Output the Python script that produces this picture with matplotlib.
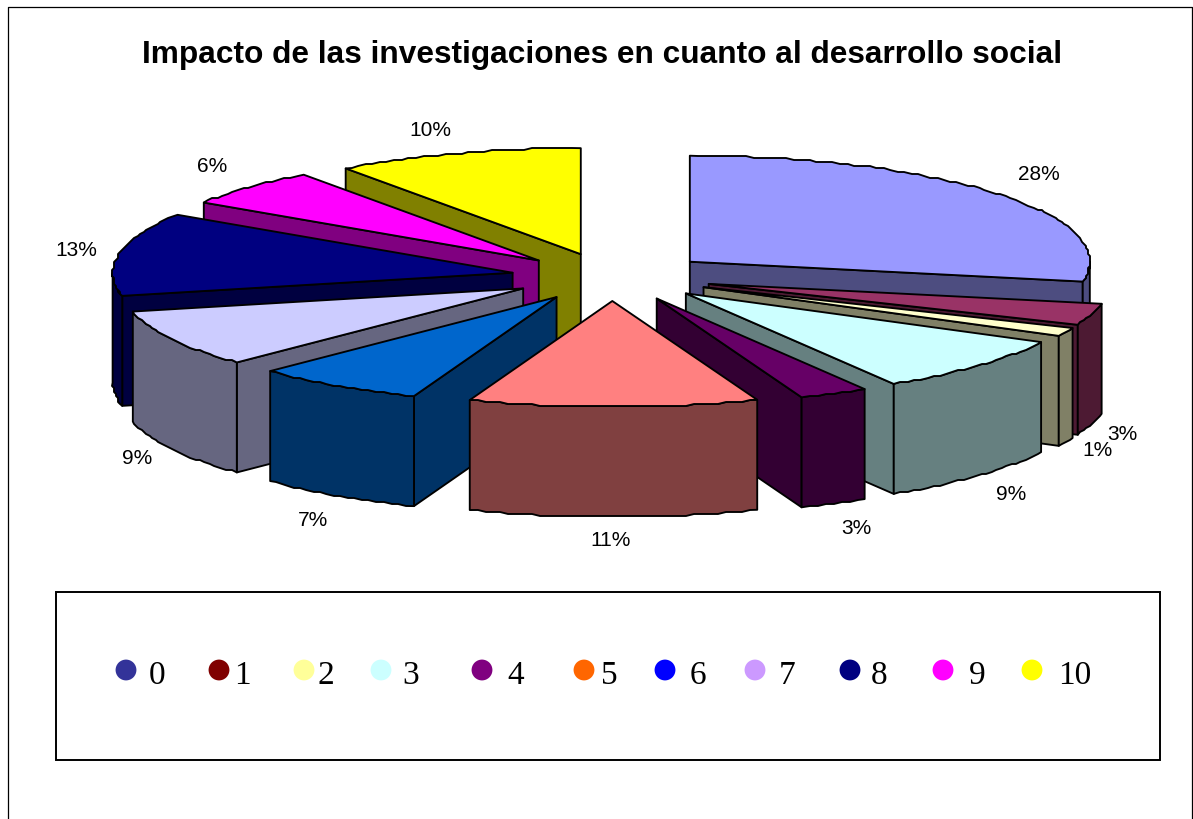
import numpy as np
import matplotlib
matplotlib.use("Agg")
import matplotlib.pyplot as plt
from matplotlib.patches import Polygon, Rectangle

TITLE = "Impacto de las investigaciones en cuanto al desarrollo social"
categories = ["0", "1", "2", "3", "4", "5", "6", "7", "8", "9", "10"]
values = [28.0, 3.3, 1.3, 8.7, 2.8, 11.7, 6.9, 8.8, 12.7, 5.8, 10.0]
pct_labels = ["28%", "3%", "1%", "9%", "3%", "11%", "7%", "9%", "13%", "6%", "10%"]
top_colors = ["#9999FF", "#993366", "#FFFFCC", "#CCFFFF", "#660066", "#FF8080",
              "#0066CC", "#CCCCFF", "#000080", "#FF00FF", "#FFFF00"]
legend_colors = ["#333399", "#800000", "#FFFF99", "#CCFFFF", "#800080", "#FF6600",
                 "#0000FF", "#CC99FF", "#000080", "#FF00FF", "#FFFF00"]

# layout (pixels)
label_xy = [(1039, 175), (1122, 434), (1097, 450), (1011, 495), (856, 528), (611, 540),
            (313, 520), (137, 459), (76, 250), (212, 166), (430, 130)]
legend_marker_x = [126, 219, 304, 381, 482, 584, 665, 755, 850, 943, 1032]
legend_text_x = [157, 242, 326, 411, 516, 609, 698, 787, 879, 977, 1075]
CX, CY, EX, EY, RX, RY, DEPTH = 612, 277, 101, 24, 400, 106, 110
GRID = 2.0

fig = plt.figure(figsize=(11.93, 8.19), dpi=100)
ax = fig.add_axes([0, 0, 1, 1])
ax.set_xlim(0, 1193)
ax.set_ylim(819, 0)
ax.axis("off")

cum = np.concatenate([[0], np.cumsum(values)]) / sum(values) * 2 * np.pi


def shade(c):
    r, g, b = matplotlib.colors.to_rgb(c)
    return (r * .5, g * .5, b * .5)


def face(pts, fc):
    ax.add_patch(Polygon(pts, closed=True, fc=fc, ec="black", lw=1.35, joinstyle="round"))


def rim(a, b, apex):
    n = max(2, int(abs(b - a) * RX / 8))
    t = np.linspace(a, b, n + 1)
    x = apex[0] + RX * np.sin(t)
    y = apex[1] - RY * np.cos(t)
    qx, qy = np.round(x / GRID) * GRID, np.round(y / GRID) * GRID
    qx[[0, -1]], qy[[0, -1]] = x[[0, -1]], y[[0, -1]]
    return np.column_stack([qx, qy])


def draw_slice(i):
    a, b = cum[i], cum[i + 1]
    m = (a + b) / 2
    apex = np.array([CX + EX * np.sin(m), CY - EY * np.cos(m)])
    down = np.array([0, DEPTH])
    side = shade(top_colors[i])
    arc = rim(a, b, apex)
    if a > np.pi:
        face([apex, arc[0], arc[0] + down, apex + down], side)
    if b < np.pi:
        face([apex, arc[-1], arc[-1] + down, apex + down], side)
    lo, hi = max(a, np.pi / 2), min(b, 3 * np.pi / 2)
    if hi > lo:
        wall = rim(lo, hi, apex)
        face(np.vstack([wall, (wall + down)[::-1]]), side)
    face(np.vstack([apex, arc]), top_colors[i])


for i in [10, 9, 8, 7, 6, 0, 1, 2, 3, 4, 5]:
    draw_slice(i)

for txt, (x, y) in zip(pct_labels, label_xy):
    ax.text(x, y, txt, ha="center", va="center", fontsize=15, family="Liberation Sans", color="black")

ax.text(602.5, 55, TITLE, ha="center", va="center", fontsize=22.8, fontweight="bold",
        family="Liberation Sans", color="black")

# frame (open at the bottom)
ax.plot([8, 8, 1192, 1192], [819, 6.5, 6.5, 819], color="black", lw=0.9, clip_on=False)
ax.add_patch(Rectangle((56, 592), 1104, 168, fc="none", ec="black", lw=1.4))

ax.scatter(legend_marker_x, [670] * len(categories), s=225, c=legend_colors, linewidths=0, zorder=3)
for txt, x in zip(categories, legend_text_x):
    ax.text(x, 676, txt, ha="center", va="center", fontsize=24, family="Liberation Serif", color="black")

fig.savefig("out.png", dpi=100, facecolor="white")
